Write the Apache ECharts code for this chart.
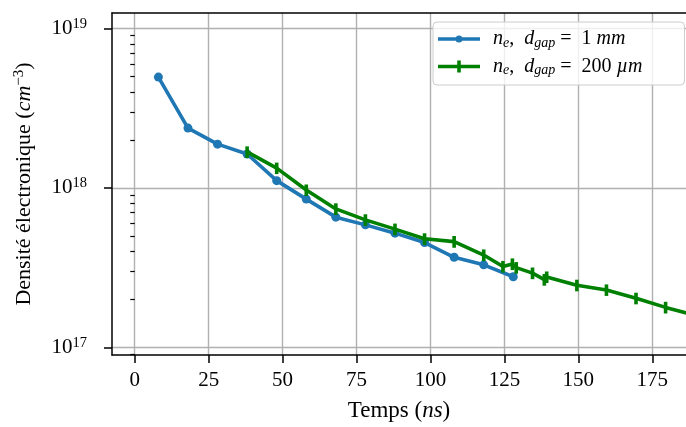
<!DOCTYPE html>
<html><head><meta charset="utf-8">
<script src="https://cdn.jsdelivr.net/npm/echarts@6/dist/echarts.min.js"></script>
<style>html,body{margin:0;padding:0;background:#fff}#c{width:686px;height:427px}</style>
</head><body><div id="c"></div>
<script>
// ---- data ----
const time1mm = [8, 18, 28, 38, 48, 58, 68, 78, 88, 98, 108, 118, 128];
const ne1mm = [4.95e18, 2.37e18, 1.88e18, 1.63e18, 1.11e18, 8.5e17, 6.55e17, 5.86e17, 5.2e17, 4.54e17, 3.67e17, 3.29e17, 2.77e17];

const time200um = [38, 48, 58, 68, 78, 88, 98, 108, 118, 124.5, 127.7, 129, 134.5, 138.5, 139.3, 149.5, 159.5, 169.5, 179.5, 189.5];
const ne200um = [1.68e18, 1.33e18, 9.7e17, 7.38e17, 6.3e17, 5.51e17, 4.79e17, 4.6e17, 3.79e17, 3.21e17, 3.33e17, 3.16e17, 2.92e17, 2.66e17, 2.76e17, 2.45e17, 2.29e17, 2.03e17, 1.78e17, 1.59e17];
const err200um = [1.4e17, 1.1e17, 8.0e16, 6.2e16, 5.3e16, 4.6e16, 4.0e16, 3.9e16, 3.2e16, 2.7e16, 2.8e16, 2.65e16, 2.45e16, 2.25e16, 2.3e16, 2.05e16, 1.9e16, 1.7e16, 1.5e16, 1.35e16];

const xTicks = [0, 25, 50, 75, 100, 125, 150, 175];
const yTicks = [1e17, 1e18, 1e19];
const yMinorTicks = [9e16, 2e17, 3e17, 4e17, 5e17, 6e17, 7e17, 8e17, 9e17, 2e18, 3e18, 4e18, 5e18, 6e18, 7e18, 8e18, 9e18];

const legendLabels = {
  s1: '{i|n}{sub|e}{r|,  }{i|d}{sub|gap}{r| =  1 }{i|mm}',
  s2: '{i|n}{sub|e}{r|,  }{i|d}{sub|gap}{r| =  200 }{i|µm}'
};
const xTitle = '{r|Temps (}{i|ns}{r|)}';
const yTitle = '{r|Densité électronique (}{i|cm}{sup|−3}{r|)}';

// ---- styles ----
const F = 'Liberation Serif';
const BLUE = '#1f77b4', GREEN = '#008000';
const richTick = {
  r: {fontFamily: F, fontSize: 21, color: '#000'},
  sup: {fontFamily: F, fontSize: 14.5, color: '#000', padding: [0, 0, 9, 0]}
};
const richTitle = {
  r: {fontFamily: F, fontSize: 22, color: '#000'},
  i: {fontFamily: F, fontSize: 22, fontStyle: 'italic', color: '#000'},
  sup: {fontFamily: F, fontSize: 15, color: '#000', padding: [0, 0, 10, 0]}
};
const richXTitle = {
  r: {fontFamily: F, fontSize: 23, color: '#000'},
  i: {fontFamily: F, fontSize: 23, fontStyle: 'italic', color: '#000'}
};
const richLegend = {
  r: {fontFamily: F, fontSize: 20, color: '#000'},
  i: {fontFamily: F, fontSize: 20, fontStyle: 'italic', color: '#000'},
  sub: {fontFamily: F, fontSize: 14, fontStyle: 'italic', color: '#000', padding: [8, 0, 0, 0]}
};
const XMIN = -7.69, XMAX = 186.4, YMIN = 8.95e16, YMAX = 1.249e19;
const axisLineStyle = {color: '#000', width: 1.5};
const gridLineStyle = {color: '#b0b0b0', width: 1.4};

const bluePath = 'path://M0,0 M42,14 M0,5.2 L42,5.2 L42,8.8 L0,8.8 Z M24.5,7 A3.5,3.5 0 1 1 17.5,7 A3.5,3.5 0 1 1 24.5,7 Z';
const greenPath = 'path://M0,0 M42,14 M0,5.2 L42,5.2 L42,8.8 L0,8.8 Z M19.2,1 L22.8,1 L22.8,13 L19.2,13 Z';

const chart = echarts.init(document.getElementById('c'), null, {renderer: 'canvas'});
chart.setOption({
  animation: false,
  backgroundColor: '#fff',
  grid: {left: 112, top: 13, right: 0, bottom: 72, containLabel: false},
  legend: {
    orient: 'vertical', left: 433, top: 22,
    itemWidth: 42, itemHeight: 14, itemGap: 6.5,
    padding: [7, 42, 7.5, 5],
    backgroundColor: 'rgba(255,255,255,0.8)', borderColor: '#cccccc', borderWidth: 1, borderRadius: 4,
    data: [{name: 's1', icon: bluePath}, {name: 's2', icon: greenPath}],
    formatter: n => legendLabels[n],
    itemStyle: {borderWidth: 0},
    textStyle: {rich: richLegend, padding: [0, 0, 0, 8]}
  },
  xAxis: [{
    type: 'value', min: XMIN, max: XMAX, position: 'bottom',
    name: xTitle, nameLocation: 'middle', nameGap: 44,
    nameTextStyle: {rich: richXTitle},
    axisLine: {onZero: false, lineStyle: axisLineStyle},
    axisTick: {show: true, customValues: xTicks, length: 8, inside: false, lineStyle: axisLineStyle},
    axisLabel: {customValues: xTicks, margin: 15, formatter: v => '{r|' + v + '}', rich: richTick},
    splitLine: {show: true, lineStyle: gridLineStyle}
  }, {
    type: 'value', min: XMIN, max: XMAX, position: 'top',
    axisLine: {show: true, onZero: false, lineStyle: axisLineStyle},
    axisTick: {show: false}, axisLabel: {show: false}, splitLine: {show: false}
  }],
  yAxis: [{
    type: 'log', logBase: 10, min: YMIN, max: YMAX, position: 'left',
    name: yTitle, nameLocation: 'middle', nameGap: 75, nameRotate: 90,
    nameTextStyle: {rich: richTitle},
    axisLine: {show: true, onZero: false, lineStyle: axisLineStyle},
    axisTick: {show: true, customValues: yTicks, length: 8, lineStyle: axisLineStyle},
    axisLabel: {customValues: yTicks, margin: 25, formatter: v => '{r|10}{sup|' + Math.round(Math.log10(v)) + '}', rich: richTick},
    splitLine: {show: true, lineStyle: gridLineStyle}
  }, {
    type: 'log', logBase: 10, min: YMIN, max: YMAX, position: 'left',
    axisLine: {show: false},
    axisTick: {show: true, customValues: yMinorTicks, length: 4.5, lineStyle: {color: '#000', width: 1.2}},
    axisLabel: {show: false}, splitLine: {show: false}
  }],
  series: [{
    name: 's1', type: 'line', xAxisIndex: 0, yAxisIndex: 0,
    data: time1mm.map((t, i) => [t, ne1mm[i]]),
    symbol: 'circle', symbolSize: 9, clip: true,
    lineStyle: {width: 3.6, color: BLUE}, itemStyle: {color: BLUE}, z: 2
  }, {
    name: 's2', type: 'line', xAxisIndex: 0, yAxisIndex: 0,
    data: time200um.map((t, i) => [t, ne200um[i]]),
    symbol: 'none', showSymbol: false, clip: true,
    lineStyle: {width: 3.6, color: GREEN}, itemStyle: {color: GREEN}, z: 3
  }, {
    name: 's2', type: 'custom', xAxisIndex: 0, yAxisIndex: 0, clip: true, z: 4,
    data: time200um.map((t, i) => [t, ne200um[i] - err200um[i], ne200um[i] + err200um[i]]),
    encode: {x: 0, y: [1, 2]},
    itemStyle: {color: GREEN},
    renderItem: (params, api) => {
      const p1 = api.coord([api.value(0), api.value(1)]);
      const p2 = api.coord([api.value(0), api.value(2)]);
      return {type: 'line', shape: {x1: p1[0], y1: p1[1], x2: p2[0], y2: p2[1]},
              style: {stroke: GREEN, lineWidth: 3.6}};
    }
  }]
});
</script></body></html>
